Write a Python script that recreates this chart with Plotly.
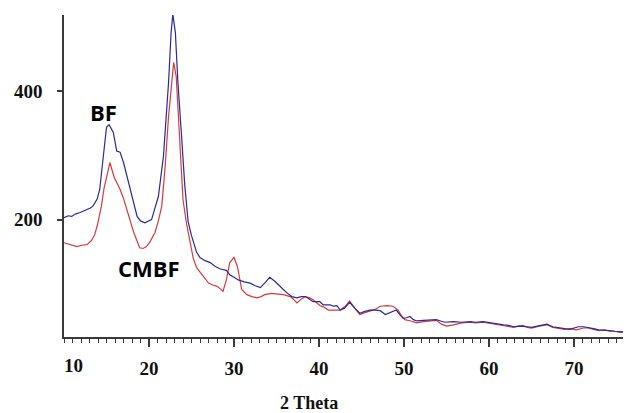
import plotly.graph_objects as go

# BF (blue) pattern
bf_2theta = [10.0, 10.5, 10.9, 11.4, 11.9, 12.5, 13.1, 13.4, 13.9, 14.2, 14.6, 15.0, 15.3, 15.8,
             16.2, 16.6, 17.0, 17.8, 18.6, 19.0, 19.5, 20.3, 21.1, 21.7, 22.3,
             22.6, 22.8, 23.1, 23.4, 23.8, 24.2, 24.6, 25.0, 25.6, 26.0, 26.6, 27.2, 27.8, 28.4, 29.1,
             29.5, 30.0, 30.5, 31.2, 31.9, 32.5, 33.1, 33.6, 34.2, 34.8, 35.3, 35.8, 36.3, 36.8, 37.4,
             37.9, 38.4, 38.9, 39.3, 40.1, 40.5, 41.3, 41.7, 42.1, 42.5, 43.0, 43.6, 44.2, 44.8, 45.4,
             46.0, 46.6, 47.2, 47.8, 48.4, 49.1, 49.5, 49.9, 50.3, 50.7, 51.1, 51.5, 52.3, 53.0, 53.8,
             54.3, 54.8, 55.8, 56.8, 57.8, 58.4, 59.3, 60.1, 60.9, 61.7, 62.3, 62.9, 63.5, 64.0, 64.5,
             65.0, 65.9, 66.8, 67.5, 68.2, 68.9, 69.5, 70.0, 70.5, 71.1, 71.7, 72.3, 72.9, 73.6, 74.2,
             74.8, 75.4, 76.0, 76.7]
bf_intensity = [203, 206, 205, 209, 211, 214, 218, 221, 232, 247, 299, 344, 348, 336,
                307, 305, 289, 247, 205, 198, 195, 200, 236, 299, 414,
                492, 520, 492, 414, 336, 255, 197, 175, 149, 141, 136, 133, 127, 123, 121,
                114, 110, 106, 103, 101, 97, 94, 101, 110, 104, 97, 91, 85, 80, 78,
                80, 80, 76, 72, 72, 67, 67, 65, 66, 59, 62, 71, 62, 54, 57,
                59, 59, 58, 52, 55, 59, 52, 46, 47, 49, 44, 42, 43, 43, 44,
                42, 40, 41, 40, 41, 40, 41, 39, 38, 36, 35, 33, 34, 34, 33,
                32, 34, 37, 33, 31, 30, 29, 31, 33, 33, 32, 30, 28, 28, 27,
                26, 25, 25, 24]

# CMBF (red) pattern
cmbf_2theta = [10.0, 10.5, 11.0, 11.5, 12.1, 12.7, 13.2, 13.6, 13.9, 14.4, 14.7, 15.0, 15.4, 15.9,
               16.6, 17.0, 17.4, 18.2, 18.9, 19.3, 19.7, 20.1, 20.7, 21.1, 21.5, 21.9,
               22.3, 22.7, 22.9, 23.2, 23.6, 24.0, 24.4, 24.8, 25.2, 25.6, 26.2, 27.0, 27.5, 28.0, 28.4,
               28.7, 29.1, 29.5, 30.0, 30.4, 30.9, 31.5, 32.1, 32.7, 33.2, 33.6, 34.4, 35.1, 35.8, 36.6,
               37.0, 37.4, 37.9, 38.4, 38.9, 39.3, 40.1, 40.5, 41.1, 41.7, 42.5, 43.1, 43.6, 44.2, 44.8,
               45.4, 46.0, 46.6, 47.2, 47.6, 48.0, 48.7, 49.3, 49.7, 50.1, 50.8, 51.5, 52.3, 53.0, 53.8,
               54.4, 55.0, 55.8, 56.8, 57.8, 58.4, 59.3, 60.1, 60.9, 61.7, 62.3, 62.9, 63.5, 64.0, 64.5,
               65.0, 65.9, 66.8, 67.5, 68.2, 68.9, 69.5, 70.3, 71.1, 71.7, 72.3, 72.9, 73.6, 74.2, 74.8,
               75.4, 76.0, 76.7]
cmbf_intensity = [164, 162, 160, 158, 160, 161, 167, 176, 190, 221, 248, 268, 289, 266,
                  247, 233, 216, 180, 156, 155, 158, 165, 180, 198, 221, 283,
                  361, 423, 445, 423, 336, 231, 195, 170, 140, 125, 115, 101, 98, 96, 92,
                  88, 106, 133, 141, 127, 91, 83, 80, 78, 80, 83, 85, 84, 83, 80,
                  76, 70, 76, 80, 78, 75, 66, 64, 59, 59, 59, 65, 73, 62, 52,
                  55, 57, 60, 65, 66, 66, 65, 59, 50, 44, 42, 39, 41, 42, 43,
                  37, 34, 36, 39, 40, 39, 40, 38, 37, 35, 33, 32, 34, 35, 32,
                  31, 34, 36, 32, 30, 29, 30, 28, 31, 31, 29, 27, 28, 26, 26,
                  24, 25, 25]

x_major_ticks = [20, 30, 40, 50, 60, 70]
y_ticks = [200, 400]

serif = "Liberation Serif"
axis_col = "#3a3a3a"

fig = go.Figure()
fig.add_trace(go.Scatter(x=cmbf_2theta, y=cmbf_intensity, mode="lines",
                         line=dict(color="#d83a3a", width=1.2), name="CMBF"))
fig.add_trace(go.Scatter(x=bf_2theta, y=bf_intensity, mode="lines",
                         line=dict(color="#2a2a9a", width=1.2), name="BF"))

fig.update_layout(
    width=623, height=405,
    margin=dict(l=56, r=0, t=7, b=76),
    paper_bgcolor="white", plot_bgcolor="white",
    showlegend=False,
    xaxis=dict(range=[10, 76.7], showgrid=False, zeroline=False,
               showline=True, linecolor=axis_col, linewidth=1.5,
               ticks="outside", ticklen=8, tickwidth=1.5, tickcolor=axis_col,
               tickvals=x_major_ticks, ticktext=[str(v) for v in x_major_ticks],
               ticklabelstandoff=5,
               tickfont=dict(family=serif, size=19, color="#111111", weight="bold"),
               minor=dict(ticks="outside", ticklen=4, tickwidth=1, tickcolor=axis_col,
                          dtick=1, tick0=10, showgrid=False)),
    yaxis=dict(range=[17, 519], showgrid=False, zeroline=False,
               showline=True, linecolor=axis_col, linewidth=1.5,
               ticks="outside", ticklen=5, tickwidth=1.5, tickcolor=axis_col,
               tickvals=y_ticks, ticktext=[str(v) for v in y_ticks],
               ticklabelstandoff=11,
               tickfont=dict(family=serif, size=19, color="#111111", weight="bold")),
)

fig.add_annotation(x=10, y=0, xref="x", yref="paper", text="10", showarrow=False,
                   xanchor="left", yanchor="middle", yshift=-28, xshift=-2,
                   font=dict(family=serif, size=19, color="#111111", weight="bold"))
fig.add_annotation(x=(308.5 - 64) / 567, y=0, xref="paper", yref="paper", text="2 Theta",
                   showarrow=False, xanchor="center", yanchor="middle", yshift=-66,
                   font=dict(family=serif, size=18, color="#111111", weight="bold"))
fig.add_annotation(x=14.6, y=368, xref="x", yref="y", text="BF", showarrow=False,
                   xanchor="center", yanchor="middle",
                   font=dict(family="Open Sans", size=22, color="black", weight="bold"))
fig.add_annotation(x=20.0, y=125, xref="x", yref="y", text="CMBF", showarrow=False,
                   xanchor="center", yanchor="middle",
                   font=dict(family="Open Sans", size=22, color="black", weight="bold"))

fig.write_html("out.html")
